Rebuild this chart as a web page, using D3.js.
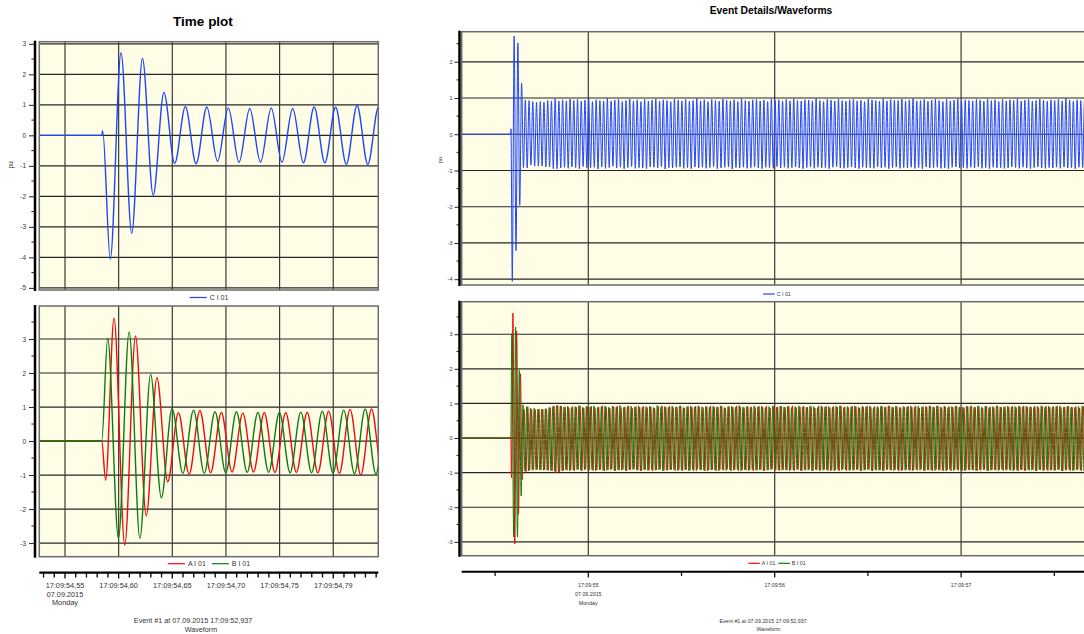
<!DOCTYPE html>
<html><head><meta charset="utf-8">
<script src="https://cdn.jsdelivr.net/npm/d3@7"></script>
<style>body{margin:0;background:#fff}svg{display:block;font-family:"Liberation Sans",Arial,sans-serif}</style>
</head><body><svg id="c" width="1084" height="634"></svg>
<script>
// ---------------- DATA (time in s after 17:09:54, values in pu) ----------------
const halfCycle = 0.01;          // spacing of successive extrema (50 Hz)
const recordStart = 0.32;
// points before the first regular extremum
const preC = [[recordStart, 0], [0.5842, 0], [0.5851, 0.15]];
const preA = [[recordStart, 0], [0.5842, 0], [0.5879, -1.15]];
const preB = [[recordStart, 0], [0.5842, 0]];
// time of first regular extremum
const t0C = 0.5922, t0A = 0.5957, t0B = 0.5898;
// successive half-cycle extrema
const extremaC = [-4.06,2.71,-3.21,2.52,-1.96,1.41,-.92,.94,-.93,.93,-.85,.90,-.88,.88,-.88,.90,-.88,.88,-.90,.93,-.90,.92,-.95,.98,-.95,.92,
-.93,.95,-.91,.92,-.94,.97,-.90,.93,-.92,.96,-.95,.91,-.89,.94,-.92,.98,-.93,.90,-.91,.95,
-.96,.93,-.90,.92,-.94,.99,-.92,.91,-.88,.94,-.93,.96,-.91,.90,-.95,.93,-.92,.97,-.89,.92,
-.94,.95,-.92,.90,-.93,.96,-.95,.92,-.90,.94,-.91,.98,-.93,.91,-.89,.95,-.96,.93,-.92,.90,
-.93,.97,-.91,.94,-.90,.92,-.94,.96,-.92,.91,-.95,.93,-.90,.99,-.93,.92,-.91,.95,-.94,.90,
-.92,.96,-.89,.93,-.95,.91,-.93,.97,-.91,.94,-.90,.92,-.96,.95,-.92,.90,-.93,.98,-.91,.93,
-.94,.91,-.92,.95,-.90,.96,-.93,.92,-.95,.94,-.91,.90,-.92,.97,-.94,.93,-.89,.95,-.93,.91,
-.91,.96,-.94,.92,-.92,.98,-.90,.93,-.93,.91,-.95,.95,-.92,.94,-.90,.92,-.94,.99,-.91,.93,
-.93,.90,-.92,.96,-.95,.94,-.91,.92,-.89,.97,-.93,.93,-.94,.91,-.92,.95,-.90,.96,-.93,.92,
-.95,.94,-.91,.90,-.93,.97,-.92,.95,-.94,.93,-.90,.91,-.93,.98,-.91,.92,-.95,.96,-.92,.94,
-.90,.93,-.94,.97,-.92,.91,-.93,.95,-.91,.99,-.94,.92,-.92,.93,-.95,.96,-.90,.91,-.93,.94,
-.92,.97,-.91,.93,-.94,.90,-.93,.96,-.95,.92,-.91,.94,-.90,.98,-.93,.91,-.92,.95,-.94,.93,
-.91,.92,-.93,.96,-.90,.94,-.94,.91,-.92,.97,-.95,.93,-.91,.95,-.93,.90,-.92,.96,-.94,.92,
-.93,.95,-.90,.93,-.92,.98,-.94,.92,-.91,.94,-.93,.96,-.95,.91,-.92,.93,-.90,.97,-.93,.94,
-.94,.91,-.92,.95,-.93,.93,-.91,.96,-.94,.92,-.90,.99,-.93,.94,-.92,.91,-.95,.95,-.91,.93,
-.92,.96,-.93,.92,-.90,.94,-.94,.97,-.92,.91,-.93,.95,-.91,.93,-.94,.96,-.92,.92,-.93,.95];
const extremaA = [3.61,-3.06,3.09,-2.20,1.86,-1.20,.83,-.98,.90,-.93,.84,-.91,.82,-.91,.83,-.92,.83,-.92,.84,-.93,.88,-.95,.93,-1.00,.94,-.98,
.92,-.95,.90,-.93,.88,-.92,.91,-.94,.89,-.91,.93,-.95,.87,-.90,.90,-.93,.92,-.94,.88,-.92,
.90,-.91,.93,-.95,.89,-.92,.86,-.90,.91,-.94,.92,-.93,.88,-.91,.90,-.95,.93,-.92,.87,-.90,
.91,-.93,.89,-.94,.92,-.91,.88,-.93,.90,-.95,.86,-.92,.91,-.90,.93,-.94,.89,-.93,.92,-.91,
.88,-.94,.90,-.92,.93,-.95,.87,-.91,.91,-.93,.89,-.94,.92,-.90,.90,-.92,.88,-.95,.91,-.93,
.93,-.91,.89,-.94,.90,-.92,.92,-.93,.87,-.90,.91,-.95,.89,-.92,.93,-.94,.90,-.91,.88,-.93,
.91,-.92,.90,-.95,.88,-.93,.92,-.91,.89,-.94,.93,-.92,.87,-.90,.91,-.93,.90,-.95,.92,-.91,
.89,-.93,.91,-.92,.93,-.94,.88,-.91,.90,-.95,.92,-.93,.89,-.90,.91,-.94,.87,-.92,.93,-.93,
.90,-.91,.92,-.94,.88,-.93,.91,-.92,.89,-.95,.93,-.90,.90,-.94,.88,-.92,.92,-.93,.91,-.91,
.87,-.94,.90,-.92,.93,-.91,.89,-.95,.91,-.93,.88,-.92,.92,-.94,.90,-.91,.93,-.93,.89,-.92,
.91,-.95,.88,-.93,.90,-.91,.92,-.94,.89,-.92,.93,-.93,.87,-.90,.91,-.95,.90,-.92,.92,-.94,
.89,-.91,.93,-.93,.88,-.94,.90,-.92,.91,-.95,.89,-.91,.92,-.93,.90,-.94,.88,-.92,.91,-.93,
.93,-.92,.89,-.95,.91,-.93,.87,-.91,.92,-.94,.90,-.92,.88,-.93,.93,-.91,.89,-.94,.91,-.92,
.90,-.93,.92,-.91,.88,-.95,.91,-.92,.93,-.94,.89,-.93,.90,-.91,.92,-.95,.88,-.92,.91,-.93,
.92,-.94,.89,-.92,.91,-.93,.93,-.91,.88,-.95,.90,-.92,.92,-.94,.89,-.93,.91,-.91,.87,-.94,
.91,-.92,.93,-.93,.89,-.94,.90,-.91,.92,-.95,.88,-.93,.91,-.92,.93,-.94,.90,-.91,.89,-.93];
const extremaB = [3.02,-2.86,3.21,-2.86,1.96,-1.67,.96,-.95,.91,-.95,.86,-.93,.86,-.92,.84,-.92,.84,-.93,.85,-.93,.88,-.94,.91,-.96,.94,-.97,
.93,-.94,.90,-.92,.92,-.95,.88,-.93,.91,-.91,.94,-.93,.89,-.92,.92,-.94,.90,-.91,.93,-.95,
.88,-.92,.91,-.94,.93,-.93,.89,-.91,.92,-.95,.90,-.92,.94,-.93,.88,-.94,.91,-.92,.92,-.91,
.90,-.93,.93,-.95,.89,-.92,.91,-.94,.92,-.91,.88,-.93,.94,-.92,.90,-.95,.91,-.93,.89,-.92,
.92,-.91,.90,-.94,.93,-.93,.88,-.92,.91,-.95,.92,-.91,.89,-.94,.93,-.92,.90,-.93,.91,-.94,
.89,-.92,.92,-.93,.90,-.95,.93,-.91,.88,-.94,.91,-.92,.92,-.93,.89,-.91,.94,-.95,.90,-.92,
.91,-.94,.89,-.91,.93,-.93,.90,-.92,.92,-.95,.88,-.93,.91,-.91,.93,-.94,.89,-.92,.92,-.93,
.90,-.92,.92,-.95,.88,-.93,.91,-.91,.93,-.94,.90,-.92,.89,-.93,.92,-.95,.91,-.91,.88,-.94,
.93,-.93,.90,-.92,.91,-.94,.89,-.95,.92,-.91,.93,-.93,.88,-.92,.91,-.94,.90,-.93,.92,-.91,
.89,-.95,.92,-.93,.90,-.91,.93,-.94,.88,-.92,.91,-.93,.92,-.95,.89,-.91,.93,-.92,.90,-.94,
.92,-.91,.88,-.94,.91,-.93,.90,-.92,.93,-.95,.89,-.91,.92,-.93,.90,-.94,.91,-.92,.93,-.93,
.90,-.94,.93,-.92,.89,-.93,.92,-.95,.88,-.91,.91,-.94,.93,-.92,.90,-.93,.89,-.95,.92,-.91,
.91,-.93,.89,-.94,.93,-.92,.90,-.91,.92,-.95,.88,-.93,.91,-.92,.93,-.94,.90,-.91,.89,-.93,
.92,-.92,.90,-.95,.91,-.93,.93,-.91,.89,-.94,.92,-.92,.90,-.93,.88,-.95,.91,-.92,.93,-.94,
.89,-.91,.92,-.93,.90,-.94,.91,-.92,.93,-.95,.89,-.93,.92,-.91,.90,-.94,.88,-.92,.91,-.93,
.93,-.94,.90,-.92,.92,-.93,.89,-.95,.91,-.91,.93,-.94,.90,-.92,.88,-.93,.92,-.95,.91,-.92];
const seriesNames = ["A I 01", "B I 01", "C I 01"];
const leftYTicksTop = [3,2,1,0,-1,-2,-3,-4,-5];
const leftYTicksBottom = [3,2,1,0,-1,-2,-3];
const rightYTicksTop = [2,1,0,-1,-2,-3,-4];
const rightYTicksBottom = [3,2,1,0,-1,-2,-3];
const leftXTickValues = [0.55,0.60,0.65,0.70,0.75,0.80];
const leftXTickLabels = ["17:09:54,55","17:09:54,60","17:09:54,65","17:09:54,70","17:09:54,75","17:09:54,79"];
const rightXTickValues = [1,2,3];
const rightXTickLabels = ["17:09:55","17:09:56","17:09:57"];
const dateLabel = "07.09.2015", dayLabel = "Monday";
const footerText = "Event #1 at 07.09.2015 17:09:52,937", footerSub = "Waveform";
const titles = ["Time plot", "Event Details/Waveforms"];
const yUnit = "pu";

// ---------------- build series ----------------
function build(pre, t0, ext) {
  const pts = pre.map(d => ({t: d[0], v: d[1]}));
  ext.forEach((v, i) => pts.push({t: t0 + i * halfCycle, v: v}));
  return pts;
}
const dataA = build(preA, t0A, extremaA);
const dataB = build(preB, t0B, extremaB);
const dataC = build(preC, t0C, extremaC);
const COL = {A: "#f00a0a", B: "#0a7d0a", C: "#1f44ff"};

const svg = d3.select("#c");
const BG = "#fffde6";
let clipId = 0;

function drawPlot(p) {
  const x = d3.scaleLinear().domain(p.xdom).range([p.x0, p.x1]);
  const y = d3.scaleLinear().domain(p.ydom).range([p.y1, p.y0]);
  const g = svg.append("g");
  g.append("rect").attr("x", p.x0).attr("y", p.y0).attr("width", p.x1 - p.x0).attr("height", p.y1 - p.y0).attr("fill", BG);
  const id = "clip" + (clipId++);
  svg.append("clipPath").attr("id", id).append("rect")
    .attr("x", p.x0).attr("y", p.y0).attr("width", p.x1 - p.x0).attr("height", p.y1 - p.y0);
  const grid = g.append("g").attr("stroke", "#262626").attr("stroke-width", 1.2);
  p.yticks.forEach(v => grid.append("line").attr("x1", p.x0).attr("x2", p.x1).attr("y1", y(v)).attr("y2", y(v)));
  p.vgrid.forEach(v => grid.append("line").attr("x1", x(v)).attr("x2", x(v)).attr("y1", p.y0).attr("y2", p.y1).attr("stroke", "#3a3a3a"));
  const line = d3.line().x(d => x(d.t)).y(d => y(d.v)).curve(d3.curveMonotoneX);
  const lg = g.append("g").attr("clip-path", "url(#" + id + ")");
  p.series.forEach(s => lg.append("path").datum(s.data).attr("fill", "none")
    .attr("stroke", s.color).attr("stroke-width", p.lw).attr("stroke-linejoin", "round").attr("d", line));
  g.append("rect").attr("x", p.x0).attr("y", p.y0).attr("width", p.x1 - p.x0).attr("height", p.y1 - p.y0)
    .attr("fill", "none").attr("stroke", "#6b6b6b").attr("stroke-width", 1.5);
  // y axis
  const ya = d3.axisLeft(y).tickValues(p.yticks).tickSize(p.tick).tickSizeOuter(0).tickPadding(p.pad).tickFormat(d => String(d));
  const yg = svg.append("g").attr("transform", "translate(" + p.axisX + ",0)").call(ya);
  yg.attr("font-family", null).attr("font-size", p.fs);
  yg.selectAll("text").attr("fill", "#333");
  yg.select(".domain").remove();
  yg.selectAll(".tick line").attr("stroke", "#222");
  const minor = p.yticks.map(v => v + 0.5).filter(v => v > p.ydom[0] && v < p.ydom[1]);
  p.yticks.forEach(v => { if (v - 0.5 > p.ydom[0] && !minor.includes(v - 0.5)) minor.push(v - 0.5); });
  minor.forEach(v => svg.append("line").attr("x1", p.axisX - p.tick * 0.6).attr("x2", p.axisX)
    .attr("y1", y(v)).attr("y2", y(v)).attr("stroke", "#222"));
  svg.append("line").attr("x1", p.axisX).attr("x2", p.axisX).attr("y1", p.y0 - 1).attr("y2", p.y1 + 1)
    .attr("stroke", "#000").attr("stroke-width", 2.5);
  return x;
}

function legend(cx, cy, items, fs, len, gapT, gapI) {
  const g = svg.append("g");
  let cur = 0;
  const parts = [];
  items.forEach((it, i) => {
    const l = g.append("line").attr("y1", cy).attr("y2", cy).attr("stroke", it.color).attr("stroke-width", 1.2);
    const t = g.append("text").attr("y", cy + fs * 0.35).attr("font-size", fs).attr("fill", "#333").text(it.name);
    const w = t.node().getComputedTextLength();
    parts.push({l, t, start: cur});
    cur += len + gapT + w + (i < items.length - 1 ? gapI : 0);
  });
  const left = cx - cur / 2;
  parts.forEach(pt => {
    pt.l.attr("x1", left + pt.start).attr("x2", left + pt.start + len);
    pt.t.attr("x", left + pt.start + len + gapT);
  });
}

function text(x, y, s, fs, opts = {}) {
  return svg.append("text").attr("x", x).attr("y", y).attr("font-size", fs)
    .attr("text-anchor", opts.anchor || "middle").attr("font-weight", opts.bold ? "bold" : null)
    .attr("fill", opts.fill || "#333").text(s);
}

// ---------------- LEFT PANEL ----------------
const leftXDom = [0.52605, 0.84199];
const xL = drawPlot({x0: 39.3, x1: 378.3, y0: 41.7, y1: 290, xdom: leftXDom, ydom: [-5.07, 3.07],
  yticks: leftYTicksTop, vgrid: leftXTickValues, axisX: 35, tick: 6, pad: 3, fs: 6.5, lw: 1.4,
  series: [{data: dataC, color: COL.C}]});
drawPlot({x0: 39.3, x1: 378.3, y0: 306, y1: 556.7, xdom: leftXDom, ydom: [-3.40, 3.97],
  yticks: leftYTicksBottom, vgrid: leftXTickValues, axisX: 35, tick: 6, pad: 3, fs: 6.5, lw: 1.4,
  series: [{data: dataA, color: COL.A}, {data: dataB, color: COL.B}]});
text(203, 25.5, titles[0], 13.5, {bold: true, fill: "#000"});
svg.append("text").attr("transform", "translate(12.5,165) rotate(-90)").attr("text-anchor", "middle")
  .attr("font-size", 6.5).attr("fill", "#333").text(yUnit);
legend(209, 297.5, [{name: seriesNames[2], color: COL.C}], 7, 17, 3, 6);
legend(209, 563.7, [{name: seriesNames[0], color: COL.A}, {name: seriesNames[1], color: COL.B}], 7, 17, 3, 6);
// x axis left
svg.append("line").attr("x1", 39.3).attr("x2", 378.3).attr("y1", 572.7).attr("y2", 572.7).attr("stroke", "#000").attr("stroke-width", 2.2);
d3.range(53, 85).forEach(i => {
  const t = i / 100;
  svg.append("line").attr("x1", xL(t)).attr("x2", xL(t)).attr("y1", 572.7).attr("y2", i % 5 === 0 ? 578.5 : 577.5)
    .attr("stroke", "#000").attr("stroke-width", 1.3);
});
leftXTickValues.forEach((v, i) => text(xL(v), 587.6, leftXTickLabels[i], 7.3));
text(xL(leftXTickValues[0]), 596.5, dateLabel, 7.3);
text(xL(leftXTickValues[0]), 605.3, dayLabel, 7.3);
text(193, 622.5, footerText, 7.2);
text(201, 631.8, footerSub, 7.2);

// ---------------- RIGHT PANEL ----------------
const rightXDom = [0.32082, 3.70762];
const xR = drawPlot({x0: 461.7, x1: 1093, y0: 31.7, y1: 285, xdom: rightXDom, ydom: [-4.16, 2.83],
  yticks: rightYTicksTop, vgrid: rightXTickValues, axisX: 459.5, tick: 5, pad: 2, fs: 5.5, lw: 1,
  series: [{data: dataC, color: COL.C}]});
drawPlot({x0: 461.7, x1: 1093, y0: 301.7, y1: 555.7, xdom: rightXDom, ydom: [-3.40, 3.94],
  yticks: rightYTicksBottom, vgrid: rightXTickValues, axisX: 459.5, tick: 5, pad: 2, fs: 5.5, lw: 1,
  series: [{data: dataA, color: COL.A}, {data: dataB, color: COL.B}]});
text(771, 14, titles[1], 10.3, {bold: true, fill: "#000"});
svg.append("text").attr("transform", "translate(442,160) rotate(-90)").attr("text-anchor", "middle")
  .attr("font-size", 5.5).attr("fill", "#333").text(yUnit);
legend(777, 294, [{name: seriesNames[2], color: COL.C}], 5.3, 11.5, 2, 3);
legend(777, 563.3, [{name: seriesNames[0], color: COL.A}, {name: seriesNames[1], color: COL.B}], 5.3, 11.5, 2, 3);
svg.append("line").attr("x1", 461.7).attr("x2", 1093).attr("y1", 571.7).attr("y2", 571.7).attr("stroke", "#000").attr("stroke-width", 2);
d3.range(1, 8).forEach(i => {
  const t = i / 2;
  svg.append("line").attr("x1", xR(t)).attr("x2", xR(t)).attr("y1", 571.7).attr("y2", i % 2 === 0 ? 577.5 : 576)
    .attr("stroke", "#000").attr("stroke-width", 1.2);
});
rightXTickValues.forEach((v, i) => text(xR(v), 586.6, rightXTickLabels[i], 5.3));
text(xR(rightXTickValues[0]), 595.6, dateLabel, 5.3);
text(xR(rightXTickValues[0]), 604.6, dayLabel, 5.3);
text(763, 622.8, footerText, 5.3);
text(768.5, 631.2, footerSub, 5.3);
</script></body></html>
